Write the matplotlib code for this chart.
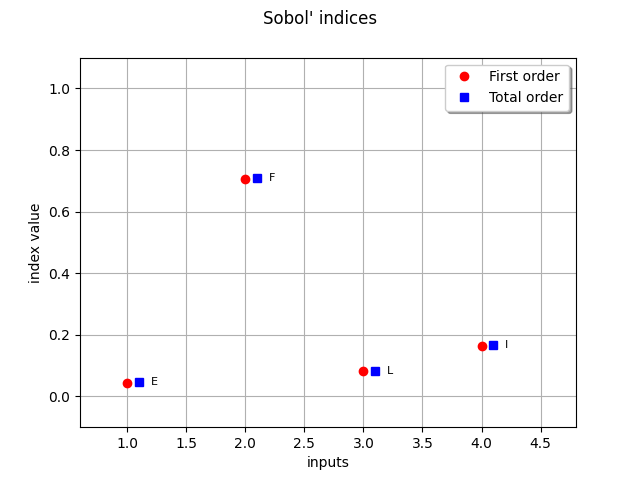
import numpy as np
import matplotlib
matplotlib.use("Agg")
import matplotlib.pyplot as plt

# Datos
entradas = ["E", "F", "L", "I"]
posiciones = [1, 2, 3, 4]
primer_orden = [0.042, 0.707, 0.081, 0.164]
orden_total = [0.046, 0.710, 0.082, 0.167]

fig, ax = plt.subplots(figsize=(6.4, 4.8), dpi=100)
x = np.array(posiciones, float)
ax.plot(x, primer_orden, "o", color="red", label="First order")
ax.plot(x + 0.1, orden_total, "s", color="blue", label="Total order")
for xi, yi, nombre in zip(x, orden_total, entradas):
    ax.text(xi + 0.2, yi, nombre, fontsize=8, ha="left", va="center")

ax.set_xlim(0.6, 4.8)
ax.set_ylim(-0.1, 1.1)
ax.set_xlabel("inputs")
ax.set_ylabel("index value")
ax.grid(True)
ax.legend(loc="upper right", shadow=True)
fig.suptitle("Sobol' indices")
fig.savefig("out.png", dpi=100)
